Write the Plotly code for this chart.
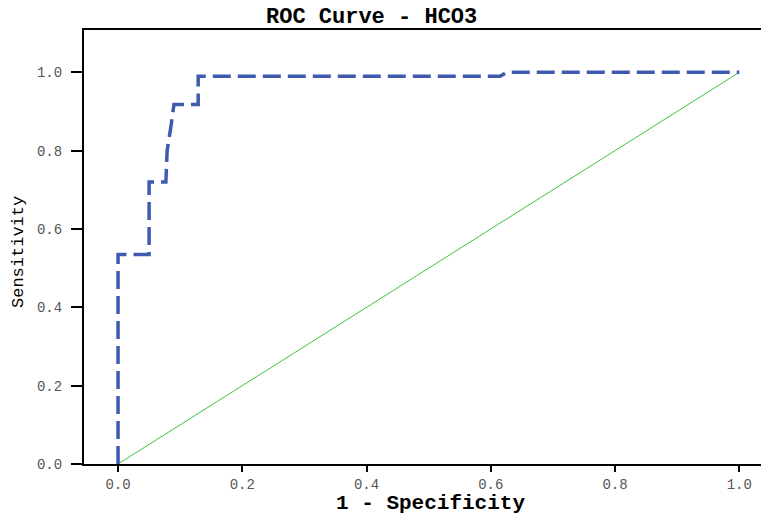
import plotly.graph_objects as go

# ROC curve points (1 - specificity, sensitivity)
fpr = [0.0, 0.0, 0.050, 0.050, 0.077, 0.079, 0.085, 0.090, 0.129, 0.129, 0.615, 0.626, 1.0]
tpr = [0.0, 0.535, 0.535, 0.720, 0.720, 0.800, 0.860, 0.918, 0.918, 0.990, 0.990, 1.0, 1.0]

# reference diagonal
ref_x = [0.0, 1.0]
ref_y = [0.0, 1.0]

tick_vals = [0.0, 0.2, 0.4, 0.6, 0.8, 1.0]
tick_text = ["0.0", "0.2", "0.4", "0.6", "0.8", "1.0"]

MONO = "Liberation Mono, Courier New, monospace"

fig = go.Figure()
fig.add_trace(go.Scatter(x=ref_x, y=ref_y, mode="lines",
                         line=dict(color="#3cc43c", width=1), hoverinfo="skip"))
fig.add_trace(go.Scatter(x=fpr, y=tpr, mode="lines",
                         line=dict(color="#3f5baf", width=3.5, dash="18px,7px"),
                         hoverinfo="skip"))

fig.update_layout(
    width=761, height=515,
    margin=dict(l=84, r=0, t=30, b=51),
    paper_bgcolor="white", plot_bgcolor="white",
    showlegend=False,
    xaxis=dict(range=[-0.0548, 1.035], tickvals=tick_vals, ticktext=tick_text,
               showgrid=False, zeroline=False, showline=True, linecolor="black",
               linewidth=1.5, mirror=True, ticks="outside", ticklen=6, tickwidth=1.5,
               tickcolor="black", tickfont=dict(family=MONO, size=14, color="#555")),
    yaxis=dict(range=[0, 1.108], tickvals=tick_vals, ticktext=tick_text,
               showgrid=False, zeroline=False, showline=True, linecolor="black",
               linewidth=2, ticks="outside", ticklen=11, tickwidth=1.5,
               tickcolor="black", ticklabelstandoff=6,
               tickfont=dict(family=MONO, size=14, color="#555")),
    annotations=[
        dict(text="<b>ROC Curve - HCO3</b>", xref="paper", yref="paper",
             x=(371 - 84) / 677, y=1, xanchor="center", yanchor="bottom", yshift=-2,
             showarrow=False, font=dict(family=MONO, size=22, color="black")),
        dict(text="<b>1 - Specificity</b>", xref="paper", yref="paper",
             x=(430 - 84) / 677, y=(464 - 503) / 434, xanchor="center", yanchor="middle",
             showarrow=False, font=dict(family=MONO, size=21, color="black")),
        dict(text="Sensitivity", xref="paper", yref="paper", textangle=-90,
             x=(18 - 84) / 677, y=(464 - 252) / 434, xanchor="center", yanchor="middle",
             showarrow=False, font=dict(family=MONO, size=17, color="black")),
    ],
)

fig.write_html("out.html", config={"displayModeBar": False},
               post_script="document.body.style.margin='0';document.body.style.padding='0';")
